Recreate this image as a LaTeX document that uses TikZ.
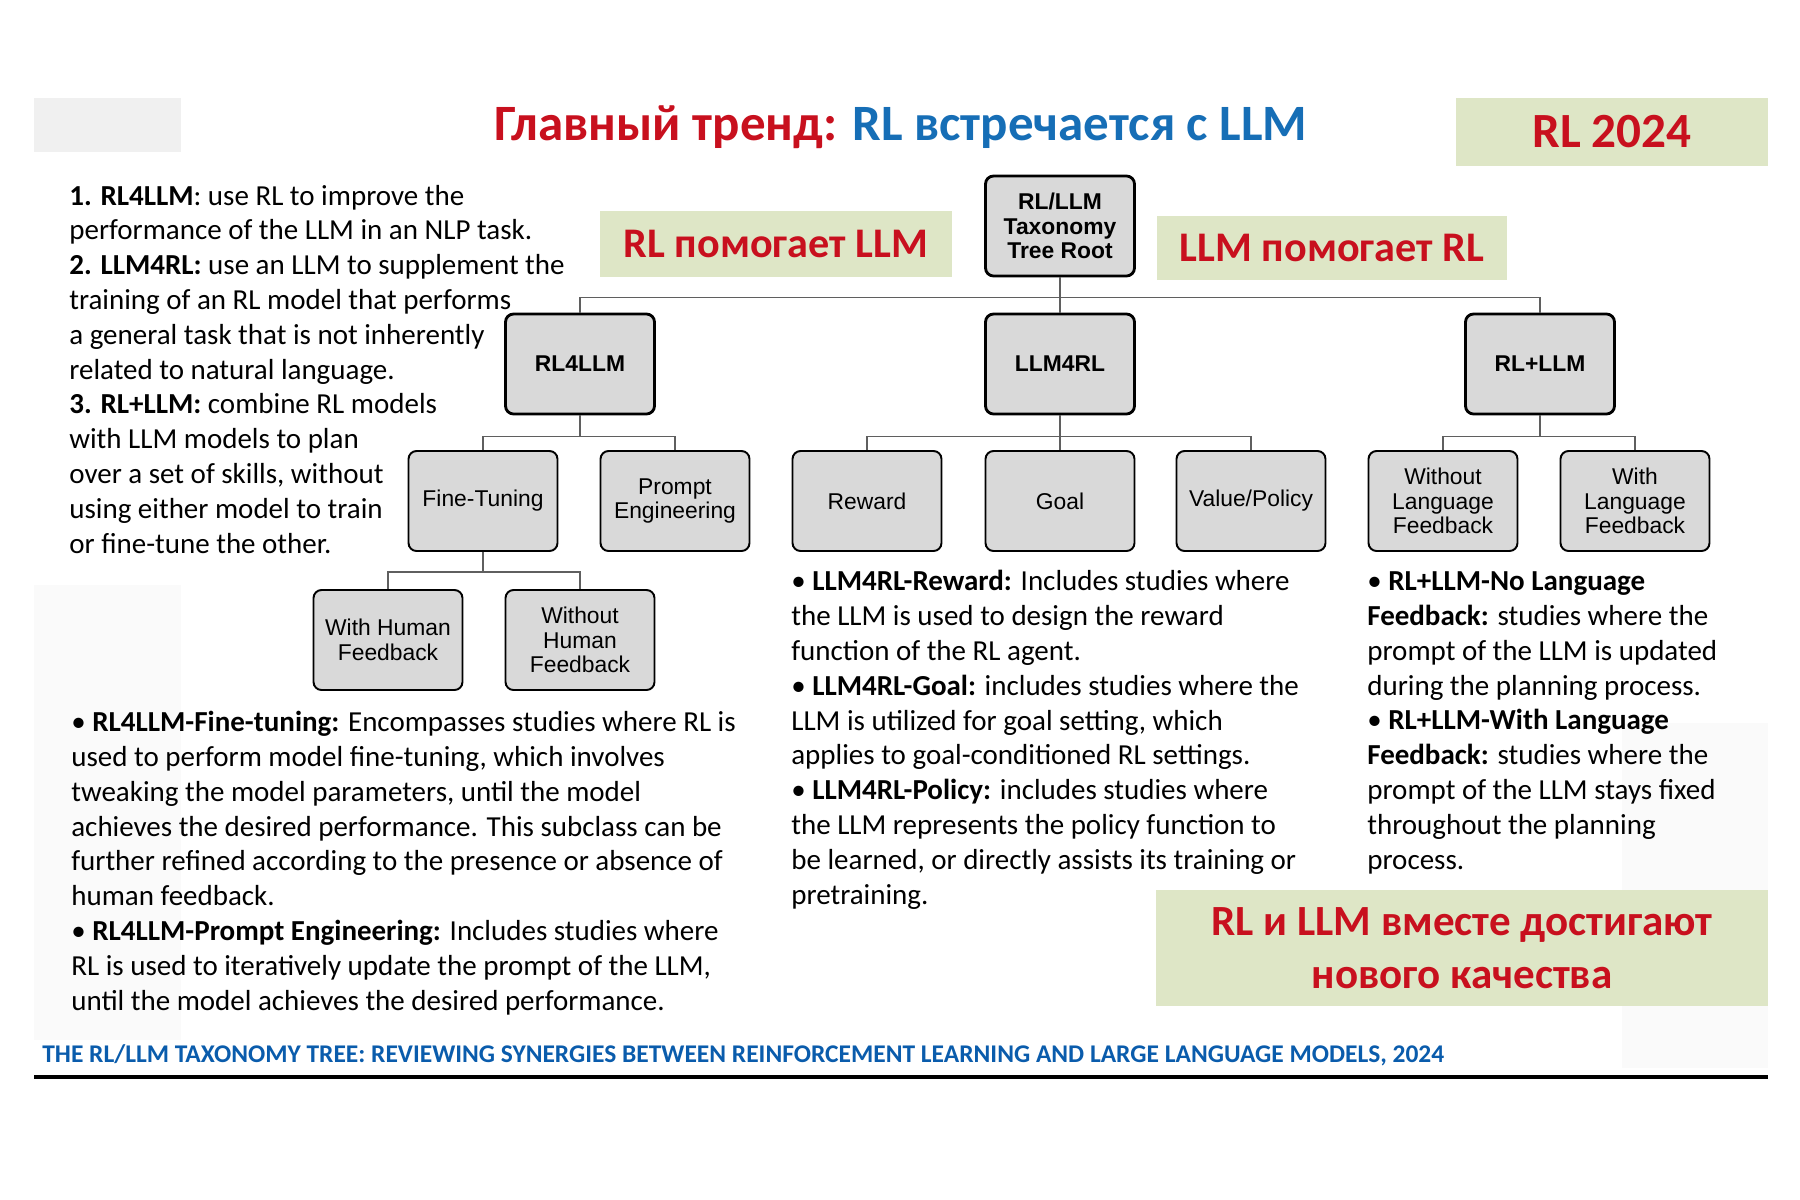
\documentclass[tikz,border=0pt]{standalone}
\usepackage{fontspec}
\setmainfont{Carlito}
\newfontfamily\boxfont{Liberation Sans}
\definecolor{titlered}{RGB}{200,16,30}
\definecolor{titleblue}{RGB}{22,110,182}
\definecolor{capblue}{RGB}{10,92,172}
\definecolor{boxgreen}{RGB}{222,230,198}
\definecolor{boxgray}{RGB}{217,217,217}
\definecolor{linegray}{RGB}{95,95,95}

\begin{document}
\begin{tikzpicture}[x=0.02cm,y=-0.02cm,
  tbox/.style={draw=black,fill=boxgray,rounded corners=0.16cm,minimum width=2.98cm,minimum height=2cm,align=center,inner sep=1pt},
  topbox/.style={tbox,line width=1.6pt,font=\boxfont\bfseries\fontsize{13}{14}\selectfont},
  subbox/.style={tbox,line width=1.1pt,font=\boxfont\fontsize{13}{14}\selectfont},
  greenbox/.style={fill=boxgreen,text=titlered,align=center,inner sep=0pt,font=\bfseries\fontsize{24}{30}\selectfont},
  para/.style={anchor=base west,align=left,inner sep=0pt,font=\fontsize{16.5}{19.8}\selectfont},
  conn/.style={draw=linegray,line width=0.8pt}]
\useasboundingbox[fill=white] (0,0) rectangle (1800,1200);
% faint panels
\fill[gray!12] (34,98) rectangle (181,152);
\fill[gray!4] (34,585) rectangle (181,1040);
\fill[gray!4] (1622,723) rectangle (1768,1068);
% title
\node[anchor=base,inner sep=0pt,font=\bfseries\fontsize{29}{34}\selectfont] (title) at (901,140)
   {\textcolor{titlered}{Главный тренд:} \textcolor{titleblue}{RL встречается с LLM}};
\node[greenbox,minimum width=6.24cm,minimum height=1.36cm,font=\bfseries\fontsize{28}{30}\selectfont] (year) at (1612,132) {RL 2024};
\node[greenbox,minimum width=7.06cm,minimum height=1.32cm] (rlhelps) at (776,244) {RL помогает LLM};
\node[greenbox,minimum width=7.02cm,minimum height=1.3cm] (llmhelps) at (1332,248) {LLM помогает RL};
\node[greenbox,minimum width=12.24cm,minimum height=2.34cm,font=\bfseries\fontsize{24.5}{30}\selectfont] (together) at (1462,948)
   {RL и LLM вместе достигают\\нового качества};
% tree
\node[topbox] (root) at (1060,226) {RL/LLM\\Taxonomy\\Tree Root};
\node[topbox] (rl4llm) at (580,364) {RL4LLM};
\node[topbox] (llm4rl) at (1060,364) {LLM4RL};
\node[topbox] (rlllm) at (1540,364) {RL+LLM};
\node[subbox] (ft) at (483,501) {Fine-Tuning};
\node[subbox] (pe) at (675,501) {Prompt\\Engineering};
\node[subbox] (rew) at (867,501) {Reward};
\node[subbox] (goal) at (1060,501) {Goal};
\node[subbox] (vp) at (1251,501) {Value/Policy};
\node[subbox] (wol) at (1443,501) {Without\\Language\\Feedback};
\node[subbox] (wl) at (1635,501) {With\\Language\\Feedback};
\node[subbox] (whf) at (388,640) {With Human\\Feedback};
\node[subbox] (wohf) at (580,640) {Without\\Human\\Feedback};
\foreach \c in {rl4llm,llm4rl,rlllm}
   \draw[conn] (root.south) -- ++(0,20) -| (\c.north);
\foreach \c in {ft,pe}
   \draw[conn] (rl4llm.south) -- ++(0,21) -| (\c.north);
\foreach \c in {rew,goal,vp}
   \draw[conn] (llm4rl.south) -- ++(0,21) -| (\c.north);
\foreach \c in {wol,wl}
   \draw[conn] (rlllm.south) -- ++(0,21) -| (\c.north);
\foreach \c in {whf,wohf}
   \draw[conn] (ft.south) -- ++(0,20) -| (\c.north);
% notes (anchored at the baseline of the last line)
\node[para] (intro) at (69,553) {\textbf{1. RL4LLM}: use RL to improve the\\
   performance of the LLM in an NLP task.\\
   \textbf{2. LLM4RL:} use an LLM to supplement the\\
   training of an RL model that performs\\
   a general task that is not inherently\\
   related to natural language.\\
   \textbf{3. RL+LLM:} combine RL models\\
   with LLM models to plan\\
   over a set of skills, without\\
   using either model to train\\
   or fine-tune the other.};
\node[para] (rlnote) at (71,1010) {\textbullet{} \textbf{RL4LLM-Fine-tuning:} Encompasses studies where RL is\\
   used to perform model fine-tuning, which involves\\
   tweaking the model parameters, until the model\\
   achieves the desired performance. This subclass can be\\
   further refined according to the presence or absence of\\
   human feedback.\\
   \textbullet{} \textbf{RL4LLM-Prompt Engineering:} Includes studies where\\
   RL is used to iteratively update the prompt of the LLM,\\
   until the model achieves the desired performance.};
\node[para] (llmnote) at (791,904) {\textbullet{} \textbf{LLM4RL-Reward:} Includes studies where\\
   the LLM is used to design the reward\\
   function of the RL agent.\\
   \textbullet{} \textbf{LLM4RL-Goal:} includes studies where the\\
   LLM is utilized for goal setting, which\\
   applies to goal-conditioned RL settings.\\
   \textbullet{} \textbf{LLM4RL-Policy:} includes studies where\\
   the LLM represents the policy function to\\
   be learned, or directly assists its training or\\
   pretraining.};
\node[para] (plusnote) at (1367,869) {\textbullet{} \textbf{RL+LLM-No Language}\\
   \textbf{Feedback:} studies where the\\
   prompt of the LLM is updated\\
   during the planning process.\\
   \textbullet{} \textbf{RL+LLM-With Language}\\
   \textbf{Feedback:} studies where the\\
   prompt of the LLM stays fixed\\
   throughout the planning\\
   process.};
% source line
\node[anchor=base west,inner sep=0pt,text=capblue,font=\bfseries\fontsize{14.5}{16}\selectfont] (source) at (42,1062)
   {THE RL/LLM TAXONOMY TREE: REVIEWING SYNERGIES BETWEEN REINFORCEMENT LEARNING AND LARGE LANGUAGE MODELS, 2024};
\coordinate (ruleL) at (34,1077);
\coordinate (ruleR) at (1768,1077);
\draw[line width=1.9pt] (ruleL) -- (ruleR);
\end{tikzpicture}
\end{document}
